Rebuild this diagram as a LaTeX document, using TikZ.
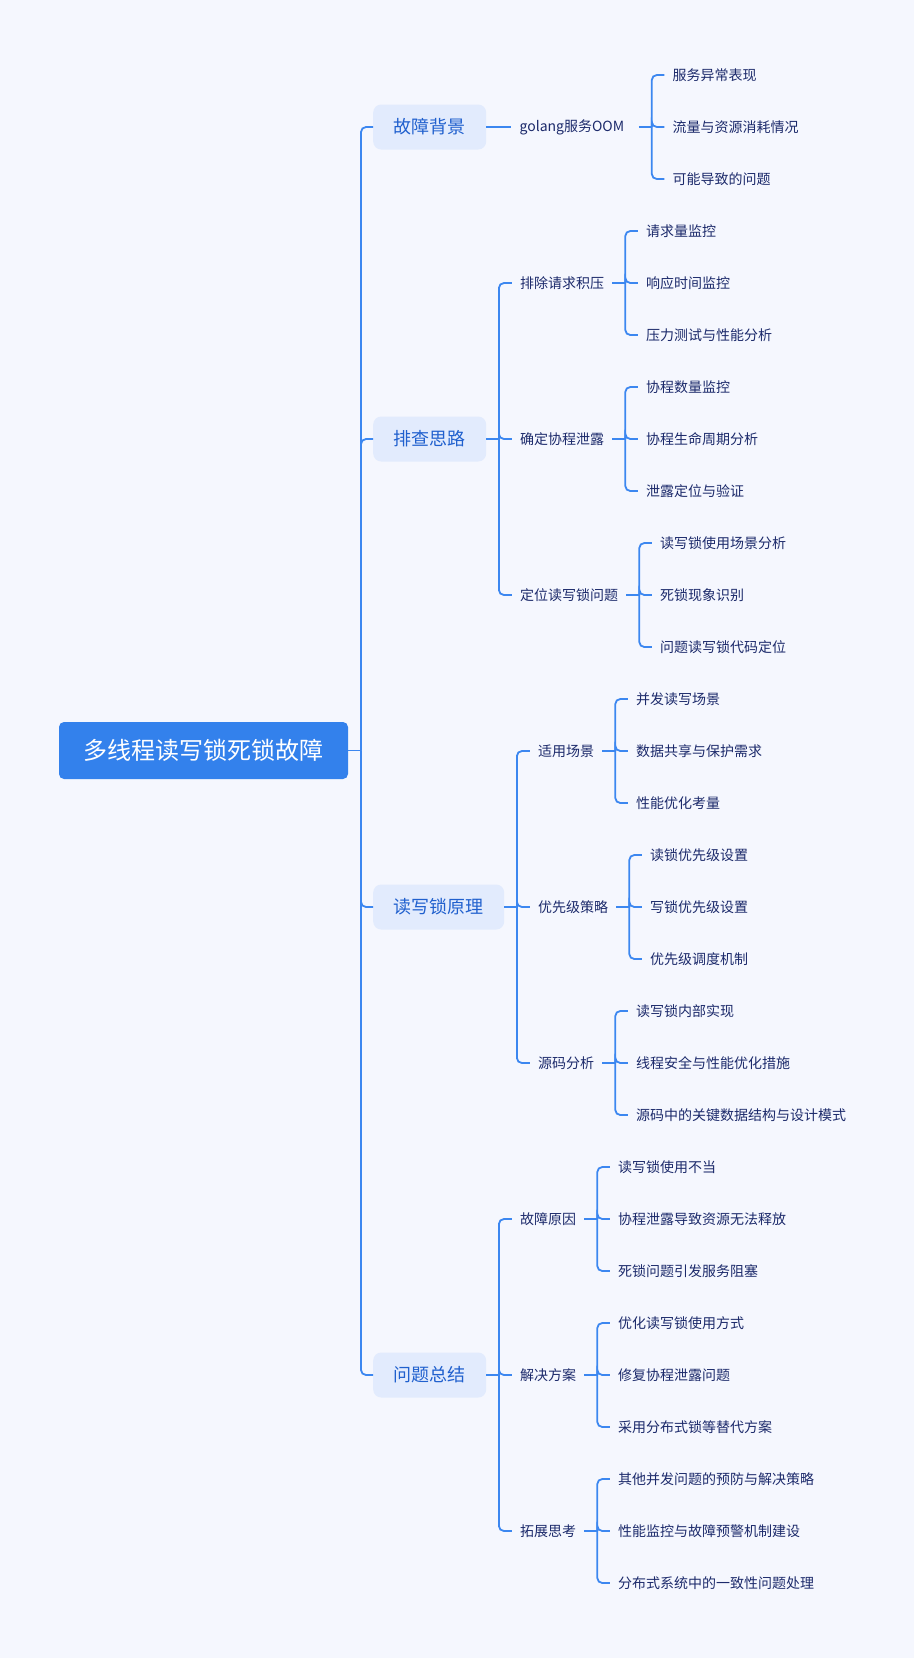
\documentclass[tikz,border=0pt]{standalone}
\usepackage{fontspec}
\setmainfont{Noto Sans CJK SC}
\usetikzlibrary{calc}
\definecolor{bgc}{RGB}{245,247,254}
\definecolor{rootc}{RGB}{51,129,236}
\definecolor{lonefill}{RGB}{226,235,253}
\definecolor{lonetext}{RGB}{32,96,206}
\definecolor{ltext}{RGB}{28,42,107}
\definecolor{linec}{RGB}{60,135,240}
\newcommand{\mkgroup}[6]{%
  \coordinate (#2br) at ($(#1.east)+(13,0)$);
  \node[leaf] (#2x) at ($(#2br)+(12.5,-#3)$) {#4};
  \node[leaf] (#2y) at ($(#2br)+(12.5,0)$) {#5};
  \node[leaf] (#2z) at ($(#2br)+(12.5,#3)$) {#6};
  \draw[conn] (#1.east) -- (#2br);
  \draw[conn] (#2br) |- (#2x.west);
  \draw[conn] (#2br) |- (#2y.west);
  \draw[conn] (#2br) |- (#2z.west);
}
\newcommand{\mkmid}[5]{%
  \coordinate (#2br) at ($(#1.east)+(12.5,0)$);
  \node[ltwo] (#2x) at ($(#2br)+(13,-156)$) {#3};
  \node[ltwo] (#2y) at ($(#2br)+(13,0)$) {#4};
  \node[ltwo] (#2z) at ($(#2br)+(13,156)$) {#5};
  \draw[conn] (#1.east) -- (#2br);
  \draw[conn] (#2br) |- (#2x.west);
  \draw[conn] (#2br) |- (#2y.west);
  \draw[conn] (#2br) |- (#2z.west);
}
\begin{document}
\begin{tikzpicture}[x=1pt,y=-1pt,
  conn/.style={draw=linec, line width=1.8pt, rounded corners=5pt},
  rootbox/.style={fill=rootc, rounded corners=5pt, text=white,
    font=\fontsize{24}{28}\selectfont, minimum width=289pt, minimum height=57pt, inner sep=0pt},
  lone/.style={fill=lonefill, rounded corners=8pt, text=lonetext,
    font=\fontsize{18}{22}\selectfont, inner xsep=20.5pt, inner ysep=0pt,
    minimum height=45pt, anchor=west},
  ltwo/.style={text=ltext, font=\fontsize{14}{17}\selectfont, inner xsep=8pt, inner ysep=2pt, anchor=west},
  leaf/.style={ltwo}]
\fill[bgc] (0,0) rectangle (914,1658);
\useasboundingbox (0,0) rectangle (914,1658);

\node[rootbox] (root) at (203.5,750.5) {多线程读写锁死锁故障};
\coordinate (m0) at (361,750.5);
\draw[conn] (root.east) -- (m0);

\node[lone] (a) at (373,127) {故障背景};
\node[lone] (b) at (373,439) {排查思路};
\node[lone] (c) at (373,907) {读写锁原理};
\node[lone] (d) at (373,1375) {问题总结};
\draw[conn] (m0) |- (a.west);
\draw[conn] (m0) |- (b.west);
\draw[conn] (m0) |- (c.west);
\draw[conn] (m0) |- (d.west);

% 故障背景
\node[ltwo, text width=111pt] (a1) at ($(a.east)+(25,0)$) {golang服务OOM};
\draw[conn] (a.east) -- (a1.west);
\mkgroup{a1}{ga}{52}{服务异常表现}{流量与资源消耗情况}{可能导致的问题}

% 排查思路
\mkmid{b}{mb}{排除请求积压}{确定协程泄露}{定位读写锁问题}
\mkgroup{mbx}{gb1}{52}{请求量监控}{响应时间监控}{压力测试与性能分析}
\mkgroup{mby}{gb2}{52}{协程数量监控}{协程生命周期分析}{泄露定位与验证}
\mkgroup{mbz}{gb3}{52}{读写锁使用场景分析}{死锁现象识别}{问题读写锁代码定位}

% 读写锁原理
\mkmid{c}{mc}{适用场景}{优先级策略}{源码分析}
\mkgroup{mcx}{gc1}{52}{并发读写场景}{数据共享与保护需求}{性能优化考量}
\mkgroup{mcy}{gc2}{52}{读锁优先级设置}{写锁优先级设置}{优先级调度机制}
\mkgroup{mcz}{gc3}{52}{读写锁内部实现}{线程安全与性能优化措施}{源码中的关键数据结构与设计模式}

% 问题总结
\mkmid{d}{md}{故障原因}{解决方案}{拓展思考}
\mkgroup{mdx}{gd1}{52}{读写锁使用不当}{协程泄露导致资源无法释放}{死锁问题引发服务阻塞}
\mkgroup{mdy}{gd2}{52}{优化读写锁使用方式}{修复协程泄露问题}{采用分布式锁等替代方案}
\mkgroup{mdz}{gd3}{52}{其他并发问题的预防与解决策略}{性能监控与故障预警机制建设}{分布式系统中的一致性问题处理}
\end{tikzpicture}
\end{document}
